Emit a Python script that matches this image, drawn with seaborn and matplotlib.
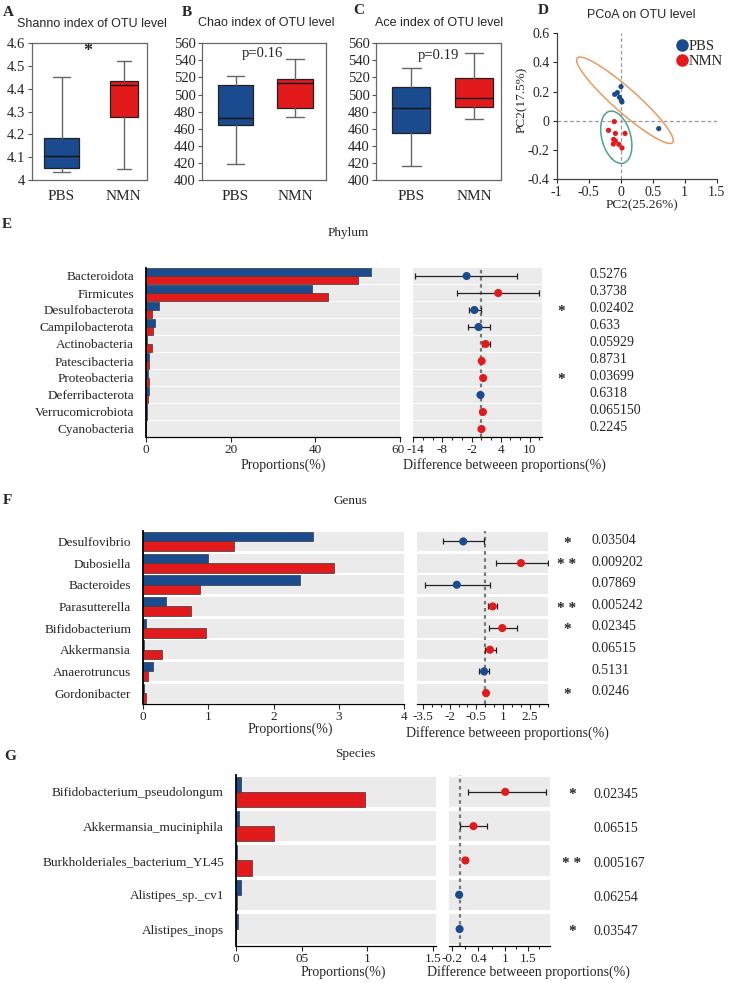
import numpy as np
import pandas as pd
import matplotlib
matplotlib.use("Agg")
import matplotlib.pyplot as plt
import seaborn as sns
from matplotlib.lines import Line2D
from matplotlib.transforms import blended_transform_factory, ScaledTranslation
from matplotlib.ticker import MultipleLocator, FixedLocator

sns.set_style("ticks")
SERIF = ["Liberation Serif", "DejaVu Serif"]
SANS = ["Liberation Sans", "DejaVu Sans"]
plt.rcParams["font.family"] = SERIF

# ---------------- data ----------------
groups = ["PBS", "NMN"]
# box summaries: [whisker low, Q1, median, Q3, whisker high]
shannon_pbs = [4.033, 4.054, 4.105, 4.183, 4.451]
shannon_nmn = [4.047, 4.278, 4.416, 4.435, 4.524]
chao_pbs = [418.7, 464.4, 473.0, 510.8, 522.1]
chao_nmn = [473.4, 483.9, 513.2, 517.9, 541.7]
ace_pbs = [416.8, 455.4, 483.9, 508.5, 530.7]
ace_nmn = [471.4, 485.0, 496.4, 519.0, 548.3]

pcoa_pbs_x = [0.005, -0.094, -0.052, -0.020, 0.020, 0.010, 0.594]
pcoa_pbs_y = [0.234, 0.181, 0.193, 0.161, 0.129, 0.140, -0.054]
pcoa_nmn_x = [-0.100, -0.190, -0.083, 0.068, -0.110, -0.083, -0.115, -0.030, 0.020]
pcoa_nmn_y = [-0.006, -0.066, -0.087, -0.087, -0.128, -0.139, -0.160, -0.162, -0.187]

phylum = ["Bacteroidota", "Firmicutes", "Desulfobacterota", "Campilobacterota",
          "Actinobacteria", "Patescibacteria", "Proteobacteria", "Deferribacterota",
          "Verrucomicrobiota", "Cyanobacteria"]
phylum_pbs = [53.2, 39.3, 3.0, 2.1, 0.3, 0.7, 0.4, 0.7, 0.15, 0.05]
phylum_nmn = [50.1, 42.9, 1.5, 1.6, 1.3, 0.7, 0.8, 0.5, 0.15, 0.05]
phylum_diff = [-3.0, 3.5, -1.4, -0.55, 0.9, 0.1, 0.4, -0.15, 0.35, 0.05]
phylum_lo = [-13.6, -4.9, -2.5, -2.8, 0.15, 0.0, 0.2, -0.3, 0.25, 0.0]
phylum_hi = [7.4, 12.0, 0.0, 1.8, 1.8, 0.2, 0.6, 0.0, 0.45, 0.1]
phylum_p = ["0.5276", "0.3738", "0.02402", "0.633", "0.05929", "0.8731",
            "0.03699", "0.6318", "0.065150", "0.2245"]
phylum_sig = ["", "", "*", "", "", "", "*", "", "", ""]

genus = ["Desulfovibrio", "Dubosiella", "Bacteroides", "Parasutterella",
         "Bifidobacterium", "Akkermansia", "Anaerotruncus", "Gordonibacter"]
genus_pbs = [2.61, 1.00, 2.41, 0.36, 0.05, 0.02, 0.16, 0.01]
genus_nmn = [1.40, 2.92, 0.87, 0.74, 0.97, 0.29, 0.08, 0.05]
genus_diff = [-1.24, 2.0, -1.6, 0.41, 0.95, 0.26, -0.07, 0.04]
genus_lo = [-2.4, 0.58, -3.4, 0.17, 0.19, 0.0, -0.34, 0.0]
genus_hi = [-0.1, 3.5, 0.26, 0.67, 1.8, 0.58, 0.2, 0.08]
genus_p = ["0.03504", "0.009202", "0.07869", "0.005242", "0.02345",
           "0.06515", "0.5131", "0.0246"]
genus_sig = ["*", "* *", "", "* *", "*", "", "", "*"]

species = ["Bifidobacterium_pseudolongum", "Akkermansia_muciniphila",
           "Burkholderiales_bacterium_YL45", "Alistipes_sp._cv1", "Alistipes_inops"]
species_pbs = [0.038, 0.028, 0.012, 0.038, 0.020]
species_nmn = [0.985, 0.290, 0.125, 0.012, 0.002]
species_diff = [1.0, 0.29, 0.11, -0.03, -0.02]
species_lo = [0.17, -0.02, 0.08, -0.04, -0.03]
species_hi = [1.91, 0.60, 0.15, -0.02, -0.01]
species_p = ["0.02345", "0.06515", "0.005167", "0.06254", "0.03547"]
species_sig = ["*", "", "* *", "", "*"]

# ---------------- style ----------------
W, H = 729, 983
BLUE = "#1A4B8E"
RED = "#E31A1C"
BAND = "#EBEBEB"
PAL = {"PBS": BLUE, "NMN": RED}

fig = plt.figure(figsize=(W / 100, H / 100), dpi=100)
fig.patch.set_facecolor("white")


def fx(x):
    return x / W


def fy(y):
    return 1 - y / H


def fig_ax(x0, y0, x1, y1):
    return fig.add_axes([x0 / W, 1 - y1 / H, (x1 - x0) / W, (y1 - y0) / H])


def ftext(x, y, s, **kw):
    fig.text(fx(x), fy(y), s, ha=kw.pop("ha", "center"), va=kw.pop("va", "center"), **kw)


# ---------------- A-C box panels ----------------
def box_panel(rect, pbs, nmn, ylim, yticks, yticklabels, xlim, widths):
    ax = fig_ax(*rect)
    stats = []
    for lab, s in zip(groups, [pbs, nmn]):
        stats.append(dict(label=lab, whislo=s[0], q1=s[1], med=s[2], q3=s[3],
                          whishi=s[4], fliers=[]))
    bp = ax.bxp(stats, positions=[0, 1], widths=widths, patch_artist=True,
                showfliers=False, capwidths=[w * 0.5 for w in widths],
                boxprops=dict(edgecolor="#222222", linewidth=0.9),
                medianprops=dict(color="#111111", linewidth=1.0),
                whiskerprops=dict(color="#666666", linewidth=1.0),
                capprops=dict(color="#666666", linewidth=1.0))
    for patch, c in zip(bp["boxes"], [BLUE, RED]):
        patch.set_facecolor(c)
    ax.set_xlim(*xlim)
    ax.set_ylim(*ylim)
    ax.set_yticks(yticks)
    ax.set_yticklabels(yticklabels)
    ax.set_xticks([0, 1])
    ax.set_xticklabels(groups)
    ax.tick_params(axis="x", length=0, pad=7, labelsize=11)
    ax.tick_params(axis="y", length=3, width=0.8, pad=1.5, labelsize=10.5, color="#555555")
    for sp in ax.spines.values():
        sp.set_visible(True)
        sp.set_color("#666666")
        sp.set_linewidth(0.9)
    return ax


axA = box_panel((31.7, 43.3, 146.7, 180), shannon_pbs, shannon_nmn, (4.0, 4.6),
                [4.0, 4.1, 4.2, 4.3, 4.4, 4.5, 4.6],
                ["4", "4.1", "4.2", "4.3", "4.4", "4.5", "4.6"], (-0.48, 1.37), [0.56, 0.45])
axA.text(0.42, 4.563, "*", ha="center", va="center", fontsize=13, fontweight="bold")

ticks_b = [400, 420, 440, 460, 480, 500, 520, 540, 560]
axB = box_panel((201.7, 43.3, 325.7, 180), chao_pbs, chao_nmn, (400, 560),
                ticks_b, [str(t) for t in ticks_b], (-0.57, 1.52), [0.6, 0.6])
axB.text(0.448, 548, "p=0.16", ha="center", va="center", fontsize=10.5)
axC = box_panel((376, 43.3, 501, 180), ace_pbs, ace_nmn, (400, 560),
                ticks_b, [str(t) for t in ticks_b], (-0.56, 1.43), [0.6, 0.6])
axC.text(0.43, 546, "p=0.19", ha="center", va="center", fontsize=10.5)

for (x, y, s) in [(8, 13, "A"), (187, 13, "B"), (359, 11, "C"), (543, 10, "D"),
                  (7, 224, "E"), (7, 501, "F"), (10, 756, "G")]:
    ftext(x, y, s, fontsize=11, fontweight="bold")
ftext(92, 24, "Shanno index of OTU level", fontsize=9, family=SANS)
ftext(266, 23, "Chao index of OTU level", fontsize=9, family=SANS)
ftext(439.5, 23, "Ace index of OTU level", fontsize=9, family=SANS)
ftext(641, 15, "PCoA on OTU level", fontsize=9, family=SANS)

# ---------------- D PCoA ----------------
axD = fig_ax(556.7, 33.3, 716.7, 179)
dfD = pd.DataFrame({
    "x": pcoa_pbs_x + pcoa_nmn_x,
    "y": pcoa_pbs_y + pcoa_nmn_y,
    "group": ["PBS"] * len(pcoa_pbs_x) + ["NMN"] * len(pcoa_nmn_x),
})
axD.axvline(0, color="#999999", ls=(0, (3, 2)), lw=0.9, zorder=0)
axD.axhline(0, color="#999999", ls=(0, (3, 2)), lw=0.9, zorder=0)


def conf_ellipse(x, y, k, npts=300):
    x = np.asarray(x)
    y = np.asarray(y)
    vals, vecs = np.linalg.eigh(np.cov(x, y))
    t = np.linspace(0, 2 * np.pi, npts)
    circ = np.stack([np.cos(t), np.sin(t)])
    pts = vecs @ (np.sqrt(vals)[:, None] * circ) * k
    return x.mean() + pts[0], y.mean() + pts[1]


ex, ey = conf_ellipse(pcoa_pbs_x, pcoa_pbs_y, 3.2)
axD.plot(ex, ey, color="#E99A63", lw=1.1)
ex, ey = conf_ellipse(pcoa_nmn_x, pcoa_nmn_y, 3.15)
axD.plot(ex, ey, color="#4FA386", lw=1.1)
sns.scatterplot(data=dfD, x="x", y="y", hue="group", palette=PAL, s=14,
                edgecolor="none", legend=False, ax=axD, zorder=3)
axD.set_xlim(-1, 1.5)
axD.set_ylim(-0.4, 0.6)
axD.set_xticks([-1, -0.5, 0, 0.5, 1, 1.5])
axD.set_xticklabels(["-1", "-0.5", "0", "0.5", "1", "1.5"])
axD.set_yticks([-0.4, -0.2, 0, 0.2, 0.4, 0.6])
axD.set_yticklabels(["-0.4", "-0.2", "0", "0.2", "0.4", "0.6"])
axD.tick_params(labelsize=10, length=3, width=0.8, pad=2)
axD.set_xlabel("")
axD.set_ylabel("")
for s in ["top", "right"]:
    axD.spines[s].set_visible(False)
for s in ["left", "bottom"]:
    axD.spines[s].set_color("#444444")
    axD.spines[s].set_linewidth(0.9)
axD.legend(handles=[Line2D([], [], marker="o", ls="", color=BLUE, markersize=8, label="PBS"),
                    Line2D([], [], marker="o", ls="", color=RED, markersize=8, label="NMN")],
           loc="upper right", bbox_to_anchor=(fx(729), fy(34)), bbox_transform=fig.transFigure,
           frameon=False, handletextpad=-0.1, borderaxespad=0, labelspacing=0.15,
           fontsize=10.5, handlelength=1.2)
ftext(642, 205, "PC2(25.26%)", fontsize=9.5)
ftext(522, 100, "PC2(17.5%)", fontsize=9.5, rotation=90)


# ---------------- E-G comparison panels ----------------
def comp_panel(bar_rect, diff_rect, names, pbs, nmn, diff, lo, hi, pvals, sig,
               bar_xlim, bar_ticks, bar_ticklabels, diff_xlim, diff_ticks, diff_minor,
               band_h, star_x, p_x, text_dy=0.0):
    n = len(names)
    pos = np.arange(n)
    ax = fig_ax(*bar_rect)
    df = pd.DataFrame({"taxon": names * 2, "group": ["PBS"] * n + ["NMN"] * n,
                       "value": list(pbs) + list(nmn)})
    sns.barplot(data=df, x="value", y="taxon", hue="group", hue_order=groups, order=names,
                palette=PAL, saturation=1, orient="h", width=band_h, dodge=True,
                errorbar=None, edgecolor="#3a3a3a", linewidth=0.5, legend=False, ax=ax)
    ax.barh(pos, bar_xlim[1] - bar_xlim[0], left=bar_xlim[0], height=band_h,
            color=BAND, linewidth=0, zorder=0.5)
    ax.set_xlim(*bar_xlim)
    ax.set_ylim(n - 0.5, -0.5)
    ax.set_xlabel("")
    ax.set_ylabel("")
    ax.set_xticks(bar_ticks)
    ax.set_xticklabels(bar_ticklabels)
    ax.tick_params(axis="y", length=0, pad=8.5, labelsize=9.5)
    ax.tick_params(axis="x", length=3.5, width=0.8, pad=1.5, labelsize=9.5)
    for s in ["top", "right"]:
        ax.spines[s].set_visible(False)
    ax.spines["left"].set_linewidth(1.3)
    ax.spines["left"].set_color("black")
    ax.spines["bottom"].set_linewidth(0.9)
    ax.spines["bottom"].set_color("black")

    ax2 = fig_ax(*diff_rect)
    ax2.barh(pos, diff_xlim[1] - diff_xlim[0], left=diff_xlim[0], height=band_h,
             color=BAND, linewidth=0, zorder=0.5)
    ax2.axvline(0, color="#777777", ls=(0, (1.6, 1.6)), lw=1.6, zorder=1)
    d = np.asarray(diff)
    ax2.errorbar(d, pos, xerr=[d - np.asarray(lo), np.asarray(hi) - d], fmt="none",
                 ecolor="#222222", elinewidth=0.9, capsize=2, capthick=0.9, zorder=2)
    sns.scatterplot(x=d, y=pos, hue=["NMN" if v > 0 else "PBS" for v in d], palette=PAL,
                    s=34, edgecolor="none", legend=False, ax=ax2, zorder=3)
    ax2.set_xlim(*diff_xlim)
    ax2.set_ylim(n - 0.5, -0.5)
    ax2.set_yticks([])
    ax2.set_xticks(diff_ticks)
    ax2.set_xticklabels([("%g" % t) for t in diff_ticks])
    ax2.xaxis.set_minor_locator(diff_minor)
    ax2.tick_params(axis="x", which="major", length=3.5, width=0.8, pad=1.5, labelsize=9.5)
    ax2.tick_params(axis="x", which="minor", length=2.5, width=0.8)
    for s in ["top", "right", "left"]:
        ax2.spines[s].set_visible(False)
    ax2.spines["bottom"].set_linewidth(0.9)
    ax2.spines["bottom"].set_color("black")

    tr = blended_transform_factory(fig.transFigure, ax2.transData)
    for i in range(n):
        if sig[i]:
            ax2.text(fx(star_x), i + 0.08, sig[i], transform=tr, ha="center", va="center",
                     fontsize=11, fontweight="bold")
        ax2.text(fx(p_x), i + text_dy, pvals[i], transform=tr, ha="left", va="center",
                 fontsize=10)
    return ax, ax2


axE, axE2 = comp_panel((146, 267.5, 400, 437.5), (413.3, 267.5, 541.7, 437.5),
                       phylum, phylum_pbs, phylum_nmn, phylum_diff, phylum_lo, phylum_hi,
                       phylum_p, phylum_sig, (0, 60), [0, 20, 40, 60], ["0", "20", "40", "60"],
                       (-14, 12.47), [-14, -8, -2, 4, 10], MultipleLocator(2), 0.9, 561, 589, -0.1)
# nudge the touching "60" / "-14" tick labels apart slightly
axE.get_xticklabels()[-1].set_transform(
    axE.get_xticklabels()[-1].get_transform() + ScaledTranslation(-2 / 100, 0, fig.dpi_scale_trans))
axE2.get_xticklabels()[0].set_transform(
    axE2.get_xticklabels()[0].get_transform() + ScaledTranslation(2.5 / 100, 0, fig.dpi_scale_trans))
ftext(348, 233, "Phylum", fontsize=9.5)
ftext(283, 465, "Proportions(%)", fontsize=10)
ftext(504, 465, "Difference betweeen proportions(%)", fontsize=10)

comp_panel((143, 530.6, 404, 703.9), (416.7, 530.6, 547.7, 703.9),
           genus, genus_pbs, genus_nmn, genus_diff, genus_lo, genus_hi,
           genus_p, genus_sig, (0, 4), [0, 1, 2, 3, 4], ["0", "1", "2", "3", "4"],
           (-3.85, 3.5), [-3.5, -2, -0.5, 1, 2.5], MultipleLocator(0.5), 0.88, 567, 592, -0.05)
ftext(350, 501, "Genus", fontsize=9.5)
ftext(290, 729, "Proportions(%)", fontsize=10)
ftext(507, 733, "Difference betweeen proportions(%)", fontsize=10)

comp_panel((235.7, 774.7, 436, 946.2), (449.3, 774.7, 550, 946.2),
           species, species_pbs, species_nmn, species_diff, species_lo, species_hi,
           species_p, species_sig, (0, 1.52), [0, 0.5, 1, 1.5], ["0", "05", "1", "1.5"],
           (-0.25, 2.0), [-0.2, 0.4, 1, 1.5], FixedLocator([0.1, 0.7, 1.25, 1.75]),
           0.88, 571.7, 594, 0.08)
ftext(355, 754, "Species", fontsize=9.5)
ftext(343, 972, "Proportions(%)", fontsize=10)
ftext(528, 972, "Difference betweeen proportions(%)", fontsize=10)

fig.savefig("out.png", dpi=100, facecolor="white")
